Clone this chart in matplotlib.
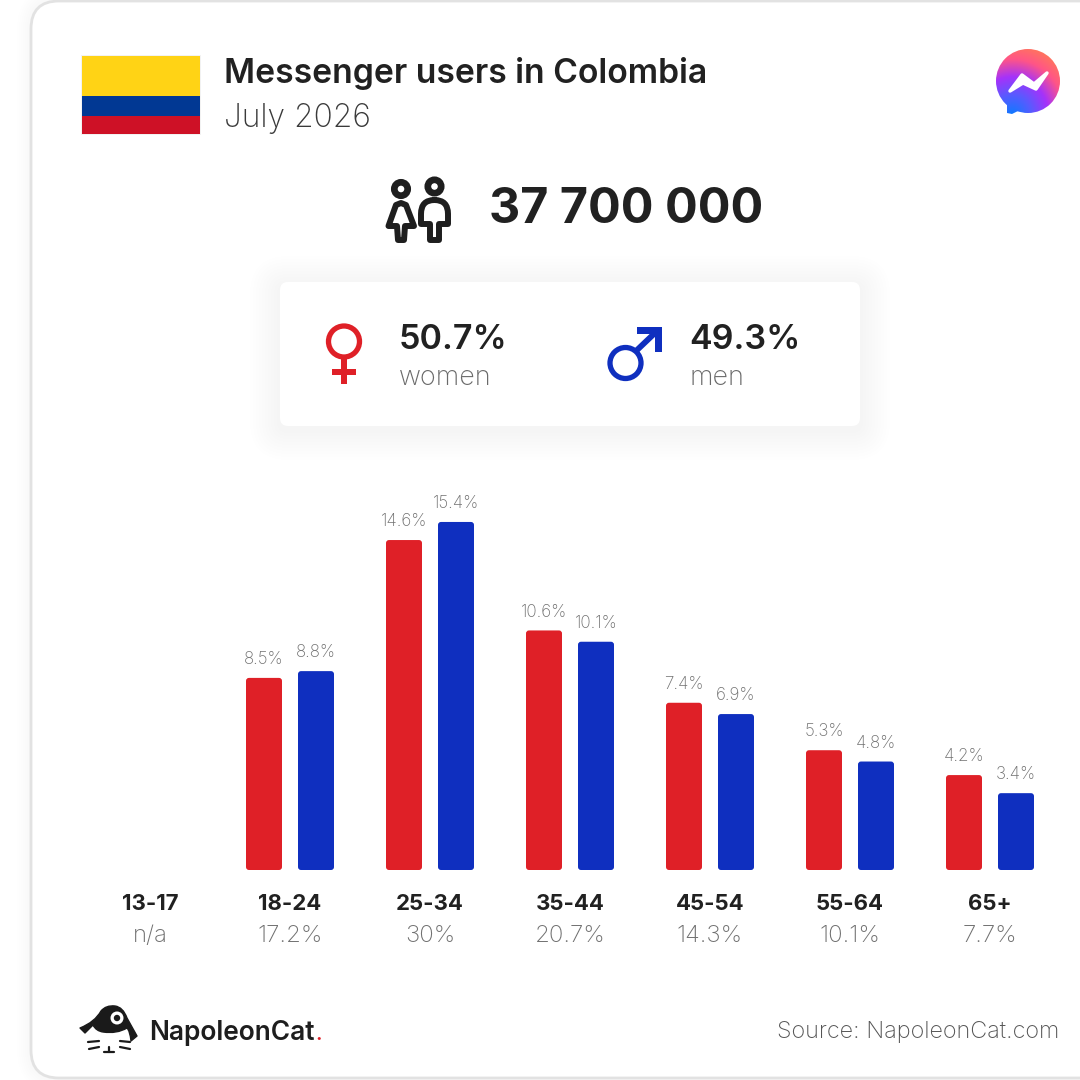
import numpy as np
from matplotlib import pyplot as plt
from matplotlib import transforms
from matplotlib.patches import FancyBboxPatch, Rectangle, Circle, Polygon, PathPatch
from matplotlib.path import Path

age_groups = ['13-17', '18-24', '25-34', '35-44', '45-54', '55-64', '65+']
age_shares = ['n/a', '17.2%', '30%', '20.7%', '14.3%', '10.1%', '7.7%']
women = [None, 8.5, 14.6, 10.6, 7.4, 5.3, 4.2]
men = [None, 8.8, 15.4, 10.1, 6.9, 4.8, 3.4]
women_total = '50.7%'
men_total = '49.3%'
total_users = '37 700 000'

RED = '#DF2027'
BLUE = '#0F2FBF'
DARK = '#212121'
GREY = '#707070'

plt.rcParams['font.family'] = ['Inter', 'DejaVu Sans']

fig = plt.figure(figsize=(10.8, 10.8), dpi=100, facecolor='white')

# overlay axes in picture pixels for the furniture
px = fig.add_axes([0, 0, 1, 1])
px.set_xlim(0, 1080)
px.set_ylim(1080, 0)
px.axis('off')


def round_box(x, y, w, h, r, **kw):
    px.add_patch(FancyBboxPatch((x, y), w, h, boxstyle=f'round,pad=0,rounding_size={r}', **kw))


def label(x, y, s, size, color=DARK, weight='normal', ha='left'):
    # size is given in pixels, 100 dpi
    return px.text(x, y, s, fontsize=size * 0.72, color=color, fontweight=weight, ha=ha, va='baseline')


# outer card with soft shadow
for grow in range(14, 0, -2):
    round_box(31 - grow, 1 - grow, 1120 + grow, 1077 + 2 * grow, 28 + grow, fc='#000000', ec='none', alpha=0.004)
round_box(31, 1, 1120, 1077, 28, fc='white', ec='#E2E2E2', lw=2)

# flag
px.add_patch(Rectangle((81, 55), 120, 80, fc='#F2F2F2', ec='none'))
px.add_patch(Rectangle((82, 56), 118, 40, fc='#FFD315', ec='none'))
px.add_patch(Rectangle((82, 96), 118, 20, fc='#013893', ec='none'))
px.add_patch(Rectangle((82, 116), 118, 18, fc='#CE1126', ec='none'))

label(224, 83, 'Messenger users in Colombia', 33.7, weight='semibold')
label(224, 127, 'July 2026', 31.8, color='#3A3A3A', weight='light')

# messenger logo: circle plus a small tail, tail wound the same way as the circle
circle_path = Path.unit_circle().transformed(transforms.Affine2D().scale(32).translate(1028, 81))
tail_path = Path([(1022, 109), (1012, 114), (1007, 113), (1007, 100), (1022, 109)],
                 [Path.MOVETO, Path.LINETO, Path.LINETO, Path.LINETO, Path.CLOSEPOLY])
bubble = PathPatch(Path.make_compound_path(circle_path, tail_path), fc='none', ec='none', transform=px.transData)
px.add_patch(bubble)
gx, gy = np.meshgrid(np.linspace(0, 1, 90), np.linspace(0, 1, 90))
dist = np.hypot(gx - 0.25, gy - 1.0) / 1.05
stops = [0, 0.3, 0.55, 0.8, 1]
colors = np.array([[10, 124, 255], [90, 90, 255], [165, 50, 250], [255, 85, 135], [255, 115, 95]]) / 255
img = np.dstack([np.interp(dist, stops, colors[:, k]) for k in range(3)])
im = px.imshow(img, extent=(996, 1060, 116, 48), aspect='auto', interpolation='bilinear', zorder=2)
im.set_clip_path(bubble)
px.add_patch(Polygon([(1010, 91), (1022, 75), (1034, 84), (1047, 73), (1036, 89), (1023, 83)],
                     fc='white', ec='white', lw=2.5, joinstyle='round', zorder=3))
px.set_xlim(0, 1080)
px.set_ylim(1080, 0)

# people icon
ink = dict(fc='none', ec='#1E1E1E', lw=4.3, joinstyle='round', capstyle='round')
head = dict(fc='none', ec='#1E1E1E', lw=4.8)
px.add_patch(Circle((401, 189), 6.7, **head))
px.add_patch(Polygon([(401, 203), (396, 205), (388.5, 226), (397, 226), (398, 240), (404, 240), (405, 226),
                      (414, 226), (406, 205)], closed=True, **ink))
px.add_patch(Circle((434.5, 186.5), 6.7, **head))
body = [(434.5, 200), (448, 200), (448, 214), (448, 224), (439, 224), (439, 240), (430, 240), (430, 224),
        (421, 224), (421, 214), (421, 200), (434.5, 200)]
body_codes = [Path.MOVETO, Path.CURVE3, Path.CURVE3, Path.LINETO, Path.LINETO, Path.LINETO, Path.LINETO,
              Path.LINETO, Path.LINETO, Path.LINETO, Path.CURVE3, Path.CURVE3]
px.add_patch(PathPatch(Path(body, body_codes), **ink))
label(489, 223, total_users, 48.5, weight='bold')

# gender panel with shadow
for grow in range(30, 0, -3):
    round_box(280 - grow, 282 - grow + 4, 580 + 2 * grow, 144 + 2 * grow, 8 + grow, fc='#000000', ec='none', alpha=0.003)
round_box(280, 282, 580, 144, 8, fc='white', ec='none')

px.add_patch(Circle((344, 341.5), 15.5, fc='none', ec=RED, lw=3.8))
px.add_patch(Rectangle((341, 358), 6, 26, fc=RED, ec='none'))
px.add_patch(Rectangle((332, 369), 24, 6, fc=RED, ec='none'))

px.add_patch(Circle((625.5, 363), 15.5, fc='none', ec=BLUE, lw=3.8))
px.plot([636, 657], [351, 331], color=BLUE, lw=4.2, solid_capstyle='butt')
px.add_patch(Polygon([(637, 327), (661.5, 327), (661.5, 352), (655, 352), (655, 333.5), (637, 333.5)], fc=BLUE, ec='none'))

label(399, 349, women_total, 34, weight='semibold')
label(399, 385, 'women', 27, color='#6A6A6A', weight='light')
label(689.5, 349, men_total, 34, weight='semibold')
label(690, 385, 'men', 27, color='#6A6A6A', weight='light')

# bars axes: group i is centred at 150 + 140 i px, zero at 870 px, 22.6 px per percent
PX_PER_GROUP = 140
PX_PER_PCT = 22.6
ax = fig.add_axes([0, 0, 1, 1])
ax.patch.set_alpha(0)
ax.set_xlim(-150 / PX_PER_GROUP, (1080 - 150) / PX_PER_GROUP)
ax.set_ylim(-(1080 - 870) / PX_PER_PCT, 870 / PX_PER_PCT)
ax.axis('off')

bar_w = 36 / PX_PER_GROUP
offset = 26 / PX_PER_GROUP
for i, (w, m) in enumerate(zip(women, men)):
    for val, dx, col in ((w, -offset, RED), (m, offset, BLUE)):
        if val is None:
            continue
        ax.add_patch(FancyBboxPatch((i + dx - bar_w / 2, 0), bar_w, val,
                                    boxstyle=f'round,pad=0,rounding_size={3 / PX_PER_GROUP}',
                                    mutation_aspect=PX_PER_GROUP / PX_PER_PCT, fc=col, ec='none'))
        ax.annotate(f'{val}%', (i + dx, val), xytext=(0, 13.2), textcoords='offset points',
                    ha='center', va='center', fontsize=17 * 0.72, color=GREY, fontweight='light')

# category labels: x from the bars axes, y in pixels
trans = transforms.blended_transform_factory(ax.transData, px.transData)
for i, (g, s) in enumerate(zip(age_groups, age_shares)):
    ax.text(i, 910, g, transform=trans, ha='center', va='baseline', fontsize=22.2 * 0.72, fontweight='bold', color=DARK)
    ax.text(i, 942, s, transform=trans, ha='center', va='baseline', fontsize=24 * 0.72, fontweight='light', color=GREY)

# napoleoncat logo
cat = [(80, 1028), (95, 1022), (101, 1011), (106, 1005), (115, 1006), (123, 1007), (127, 1018), (137, 1036),
       (131, 1041), (130, 1031), (127, 1028), (117, 1034), (103, 1032), (96, 1031), (93, 1025), (85, 1033), (80, 1028)]
cat_codes = [Path.MOVETO, Path.CURVE3, Path.CURVE3, Path.CURVE3, Path.CURVE3, Path.CURVE3, Path.CURVE3, Path.LINETO,
             Path.LINETO, Path.CURVE3, Path.CURVE3, Path.CURVE3, Path.CURVE3, Path.CURVE3, Path.CURVE3, Path.LINETO,
             Path.CLOSEPOLY]
px.add_patch(PathPatch(Path(cat, cat_codes), fc='#1A1A1A', ec='#1A1A1A', lw=1, joinstyle='round'))
px.add_patch(Circle((117, 1018), 6.5, fc='white', ec='none'))
px.add_patch(Circle((117, 1018), 3.2, fc='#1A1A1A', ec='none'))
for xs, ys in [((88, 99), (1042, 1041)), ((89, 99), (1049, 1047)), ((120, 130), (1041, 1042)),
               ((120, 130), (1047, 1049)), ((104, 114), (1052, 1052)), ((109, 109), (1047, 1052))]:
    px.plot(xs, ys, color='#1A1A1A', lw=1.6, solid_capstyle='round')
label(149, 1040, 'NapoleonCat', 26.3, color='#1E1E1E', weight='semibold')
label(315, 1040, '.', 19, color=RED, weight='bold')

label(1059, 1038, 'Source: NapoleonCat.com', 23.4, color='#555555', weight='light', ha='right')

fig.savefig('out.png', dpi=100)
